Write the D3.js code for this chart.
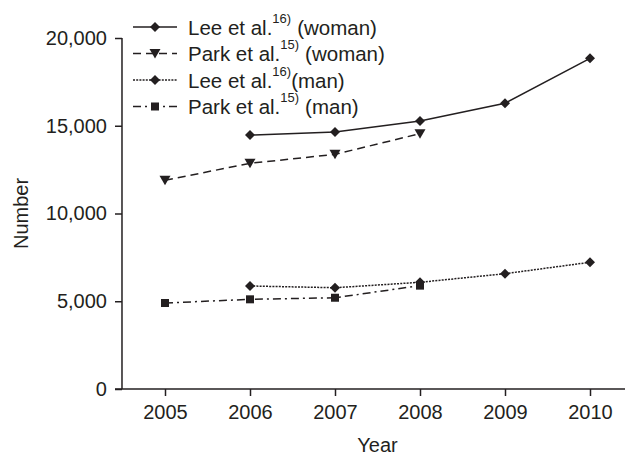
<!DOCTYPE html>
<html>
<head>
<meta charset="utf-8">
<script src="https://cdn.jsdelivr.net/npm/d3@7"></script>
<style>
  body { margin: 0; background: #fff; }
  svg text { font-family: "Liberation Sans", Arial, sans-serif; fill: #231f20; }
</style>
</head>
<body>
<svg id="chart" width="625" height="455"></svg>
<script>
// Data.
var years = [2005, 2006, 2007, 2008, 2009, 2010];
var yTicks = [0, 5000, 10000, 15000, 20000];

var leeWomanYears = [2006, 2007, 2008, 2009, 2010];
var leeWoman = [14470, 14640, 15270, 16280, 18840];
var parkWomanYears = [2005, 2006, 2007, 2008];
var parkWoman = [11890, 12860, 13370, 14550];
var leeManYears = [2006, 2007, 2008, 2009, 2010];
var leeMan = [5870, 5770, 6080, 6570, 7220];
var parkManYears = [2005, 2006, 2007, 2008];
var parkMan = [4900, 5110, 5200, 5890];

var ink = "#231f20";

var series = [
  { name: "Lee et al.", ref: "16)", who: "(woman)", xs: leeWomanYears, ys: leeWoman, dash: null, marker: "diamond" },
  { name: "Park et al.", ref: "15)", who: "(woman)", xs: parkWomanYears, ys: parkWoman, dash: "8,5", marker: "triangle" },
  { name: "Lee et al.", ref: "16)", who: "(man)", xs: leeManYears, ys: leeMan, dash: "2,1.2", marker: "diamond" },
  { name: "Park et al.", ref: "15)", who: "(man)", xs: parkManYears, ys: parkMan, dash: "8,4,2,4", marker: "square" }
];

var svg = d3.select("#chart");

var x = d3.scaleLinear().domain([2005, 2010]).range([165, 590]);
var y = d3.scaleLinear().domain([0, 20000]).range([389, 38]);
var xLeft = x(2004.494);

// Y axis
var yAxis = svg.append("g")
  .attr("transform", "translate(" + xLeft + ",0)")
  .call(d3.axisLeft(y).tickValues(yTicks).tickSize(7).tickPadding(8).tickFormat(d3.format(",")));
yAxis.select(".domain").attr("d", "M0," + y(20000) + "V" + y(0));
yAxis.selectAll("line, path").attr("stroke", ink).attr("stroke-width", 1.5);
yAxis.selectAll("text").style("font-size", "20px").attr("fill", ink);

// X axis
var xAxis = svg.append("g")
  .attr("transform", "translate(0," + y(0) + ")")
  .call(d3.axisBottom(x).tickValues(years).tickSize(7).tickPadding(9).tickFormat(d3.format("d")));
xAxis.select(".domain").attr("d", "M" + (xLeft - 7) + ",0H625");
xAxis.selectAll("line, path").attr("stroke", ink).attr("stroke-width", 1.5);
xAxis.selectAll("text").style("font-size", "20px").attr("fill", ink);

// Axis titles
svg.append("text")
  .attr("transform", "translate(28," + (y(10000)) + ") rotate(-90)")
  .attr("text-anchor", "middle")
  .style("font-size", "20px")
  .text("Number");
svg.append("text")
  .attr("x", x(2007.5))
  .attr("y", 452)
  .attr("text-anchor", "middle")
  .style("font-size", "20px")
  .text("Year");

function drawMarker(g, kind, cx, cy) {
  if (kind === "diamond") {
    g.append("path").attr("d", "M" + cx + "," + (cy - 5) + "L" + (cx + 5) + "," + cy + "L" + cx + "," + (cy + 5) + "L" + (cx - 5) + "," + cy + "Z").attr("fill", ink);
  } else if (kind === "triangle") {
    g.append("path").attr("d", "M" + (cx - 5.5) + "," + (cy - 4.5) + "L" + (cx + 5.5) + "," + (cy - 4.5) + "L" + cx + "," + (cy + 5) + "Z").attr("fill", ink);
  } else {
    g.append("rect").attr("x", cx - 4).attr("y", cy - 4).attr("width", 8).attr("height", 8).attr("fill", ink);
  }
}

var line = d3.line().x(d => x(d[0])).y(d => y(d[1]));

series.forEach(function (s) {
  var pts = s.xs.map((v, i) => [v, s.ys[i]]);
  var g = svg.append("g");
  g.append("path")
    .attr("d", line(pts))
    .attr("fill", "none")
    .attr("stroke", ink)
    .attr("stroke-width", 1.5)
    .attr("stroke-dasharray", s.dash);
  pts.forEach(function (p) { drawMarker(g, s.marker, x(p[0]), y(p[1])); });
});

// Legend
var legend = svg.append("g");
series.forEach(function (s, i) {
  var ly = 27 + i * 26.5;
  var g = legend.append("g");
  g.append("line")
    .attr("x1", 133).attr("x2", 177).attr("y1", ly).attr("y2", ly)
    .attr("stroke", ink).attr("stroke-width", 1.5)
    .attr("stroke-dasharray", s.dash);
  drawMarker(g, s.marker, 155, ly);
  var t = g.append("text").attr("x", 188).attr("y", ly + 7.5).style("font-size", "20.5px");
  t.append("tspan").text(s.name);
  t.append("tspan").attr("dy", -12).style("font-size", "13px").text(s.ref);
  t.append("tspan").attr("dy", 12).attr("dx", i === 2 ? 0 : 6).text(s.who);
});
</script>
</body>
</html>
